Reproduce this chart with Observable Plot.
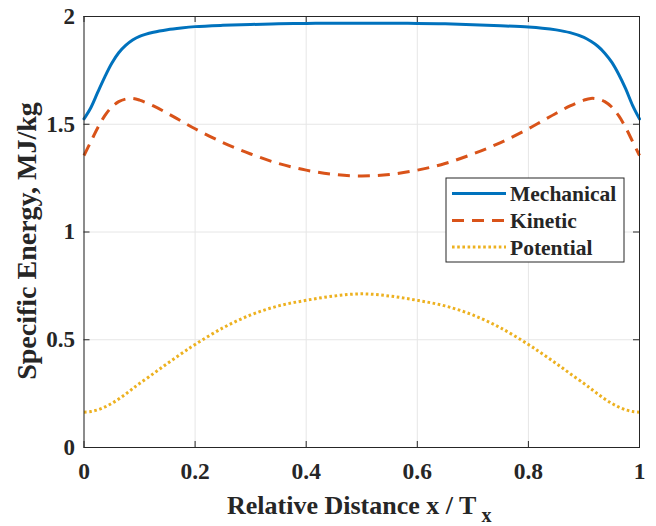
<!DOCTYPE html>
<html><head><meta charset="utf-8">
<script src="https://cdn.jsdelivr.net/npm/d3@7"></script>
<script src="https://cdn.jsdelivr.net/npm/@observablehq/plot@0.6"></script>
<style>body{margin:0;background:#fff} svg{display:block}</style>
</head><body><div id="chart"></div>
<script>
const xs   = [0,0.0125,0.025,0.0375,0.05,0.0625,0.075,0.0875,0.1,0.125,0.15,0.175,0.2,0.25,0.3,0.35,0.4,0.45,0.5,
              0.55,0.6,0.65,0.7,0.75,0.8,0.825,0.85,0.875,0.9,0.9125,0.925,0.9375,0.95,0.9625,0.975,0.9875,1];
const mechanical = [1.525,1.578,1.65,1.72,1.783,1.832,1.866,1.891,1.908,1.927,1.939,1.947,1.953,1.959,1.963,1.966,1.968,1.969,1.969,
              1.969,1.968,1.966,1.962,1.957,1.951,1.946,1.938,1.925,1.903,1.885,1.862,1.83,1.788,1.732,1.665,1.588,1.525];
const kinetic = [1.355,1.42,1.485,1.54,1.58,1.605,1.617,1.62,1.612,1.585,1.551,1.515,1.479,1.415,1.362,1.318,1.287,1.267,1.26,
              1.267,1.287,1.318,1.362,1.415,1.479,1.515,1.551,1.585,1.612,1.62,1.617,1.605,1.58,1.54,1.485,1.42,1.355];
const potential = [0.164,0.167,0.175,0.188,0.205,0.225,0.248,0.273,0.297,0.343,0.39,0.435,0.478,0.555,0.615,0.657,0.683,0.703,0.713,
              0.703,0.683,0.657,0.615,0.555,0.478,0.435,0.39,0.343,0.297,0.273,0.248,0.225,0.205,0.188,0.175,0.167,0.164];
const xTicks = [0,0.2,0.4,0.6,0.8,1];
const yTicks = [0,0.5,1,1.5,2];
const seriesNames = ["Mechanical","Kinetic","Potential"];
const colors = ["#0072BD","#D95319","#EDB120"];
const dashes = [null,"12,8","2.6,2.6"];

const data = xs.map((x,i)=>({x, m: mechanical[i], k: kinetic[i], p: potential[i]}));

const W=656,H=526,mL=83.5,mR=17,mT=16,mB=79;
const innerW=W-mL-mR, innerH=H-mT-mB;
const fam='"Liberation Serif","Times New Roman",serif';
const axisColor="#262626";

const chart = Plot.plot({
  width:W,height:H,marginLeft:mL,marginRight:mR,marginTop:mT,marginBottom:mB,
  style:{fontFamily:fam,background:"#fff",fontSize:"23px",fontWeight:"bold",color:axisColor},
  x:{domain:[0,1]}, y:{domain:[0,2]},
  marks:[
    Plot.gridX(xTicks,{stroke:"#e6e6e6",strokeOpacity:1,strokeWidth:1}),
    Plot.gridY(yTicks,{stroke:"#e6e6e6",strokeOpacity:1,strokeWidth:1}),
    Plot.line(data,{x:"x",y:"p",stroke:colors[2],strokeWidth:3,strokeDasharray:dashes[2],strokeLinecap:"butt",curve:"catmull-rom"}),
    Plot.line(data,{x:"x",y:"k",stroke:colors[1],strokeWidth:3,strokeDasharray:dashes[1],strokeLinecap:"butt",curve:"catmull-rom"}),
    Plot.line(data,{x:"x",y:"m",stroke:colors[0],strokeWidth:3,curve:"catmull-rom"}),
    Plot.ruleX(xTicks,{x:d=>d,insetTop:innerH-6,stroke:axisColor}),
    Plot.ruleX(xTicks,{x:d=>d,insetBottom:innerH-6,stroke:axisColor}),
    Plot.ruleY(yTicks,{y:d=>d,insetRight:innerW-6,stroke:axisColor}),
    Plot.ruleY(yTicks,{y:d=>d,insetLeft:innerW-6,stroke:axisColor}),
    Plot.frame({stroke:axisColor,strokeWidth:1}),
    Plot.axisX(xTicks,{anchor:"bottom",tickSize:0,tickPadding:15,tickFormat:d=>String(d),label:null,fontSize:23.5,fontWeight:"bold",fill:axisColor}),
    Plot.axisY(yTicks,{anchor:"left",tickSize:0,tickPadding:9,tickFormat:d=>String(d),label:null,fontSize:23,fontWeight:"bold",fill:axisColor})
  ]
});
document.getElementById("chart").appendChild(chart);

const svg = d3.select(chart);
// x axis label with subscript
const xl = svg.append("text").attr("x",227).attr("y",514).attr("text-anchor","start")
  .attr("font-family",fam).attr("font-weight","bold").attr("font-size",26).attr("fill",axisColor);
xl.append("tspan").text("Relative Distance x / T");
xl.append("tspan").attr("dx",5).attr("dy",8).attr("font-size",20).text("x");
// y axis label
svg.append("text").attr("transform","translate(36,241) rotate(-90)").attr("text-anchor","middle")
  .attr("font-family",fam).attr("font-weight","bold").attr("font-size",28).attr("fill",axisColor)
  .text("Specific Energy, MJ/kg");
// legend
const lg = svg.append("g");
lg.append("rect").attr("x",446).attr("y",178).attr("width",178).attr("height",84)
  .attr("fill","#fff").attr("stroke",axisColor).attr("stroke-width",1);
const rows=[193.5,220.5,247];
seriesNames.forEach((name,i)=>{
  lg.append("line").attr("x1",452).attr("x2",506).attr("y1",rows[i]).attr("y2",rows[i])
    .attr("stroke",colors[i]).attr("stroke-width",3).attr("stroke-dasharray",dashes[i]);
  lg.append("text").attr("x",510).attr("y",rows[i]+7.5).attr("text-anchor","start")
    .attr("font-family",fam).attr("font-weight","bold").attr("font-size",21.5).attr("fill",axisColor)
    .text(name);
});
</script></body></html>
